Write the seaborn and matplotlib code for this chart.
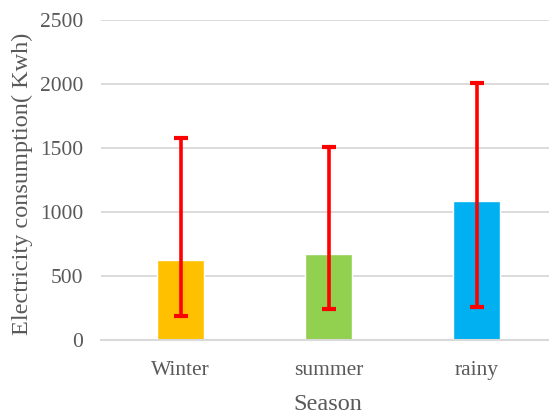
import matplotlib
matplotlib.use("Agg")
import matplotlib.pyplot as plt
import seaborn as sns
import pandas as pd
import numpy as np

seasons = ["Winter", "summer", "rainy"]
consumption = [625, 672, 1086]
err_low = [190, 245, 260]
err_high = [1578, 1508, 2010]
colors = ["#FFC000", "#92D050", "#00B0F0"]
yticks = [0, 500, 1000, 1500, 2000, 2500]

sns.set_theme(style="white")
plt.rcParams["font.family"] = ["Liberation Serif", "DejaVu Serif"]

df = pd.DataFrame({"Season": seasons, "Consumption": consumption})

fig = plt.figure(figsize=(5.49, 4.13), dpi=100)
ax = fig.add_axes([101 / 549, 1 - 340 / 413, 448 / 549, 320 / 413])

sns.barplot(data=df, x="Season", y="Consumption", hue="Season",
            palette=colors, width=0.32, ax=ax, legend=False,
            saturation=1, errorbar=None)

vals = np.array(consumption)
lower = vals - np.array(err_low)
upper = np.array(err_high) - vals
ax.errorbar(np.arange(len(seasons)), vals, yerr=[lower, upper], fmt="none",
            ecolor="#FF0000", elinewidth=2.6, capsize=5, capthick=3, zorder=5)

ax.set_ylim(0, 2500)
ax.set_xlim(-0.54, 2.49)
ax.set_yticks(yticks)
ax.yaxis.grid(True, color="#D9D9D9", linewidth=1.3)
ax.set_axisbelow(True)
for s in ["top", "right", "left"]:
    ax.spines[s].set_visible(False)
ax.spines["bottom"].set_color("#D9D9D9")
ax.spines["bottom"].set_linewidth(1.5)
ax.tick_params(axis="both", length=0, labelsize=15.5, colors="#595959")
ax.tick_params(axis="y", pad=13)
ax.tick_params(axis="x", pad=15)
ax.set_xlabel("Season", fontsize=17.5, color="#595959")
ax.set_ylabel("Electricity consumption( Kwh)", fontsize=17.5, color="#595959")
ax.xaxis.set_label_coords((328 - 101) / 448, -(404 - 340) / 320)
ax.yaxis.set_label_coords(-(101 - 22) / 448, (340 - 184) / 320)
ax.xaxis.label.set_va("center")
ax.yaxis.label.set_va("center")

fig.savefig("out.png", dpi=100)
